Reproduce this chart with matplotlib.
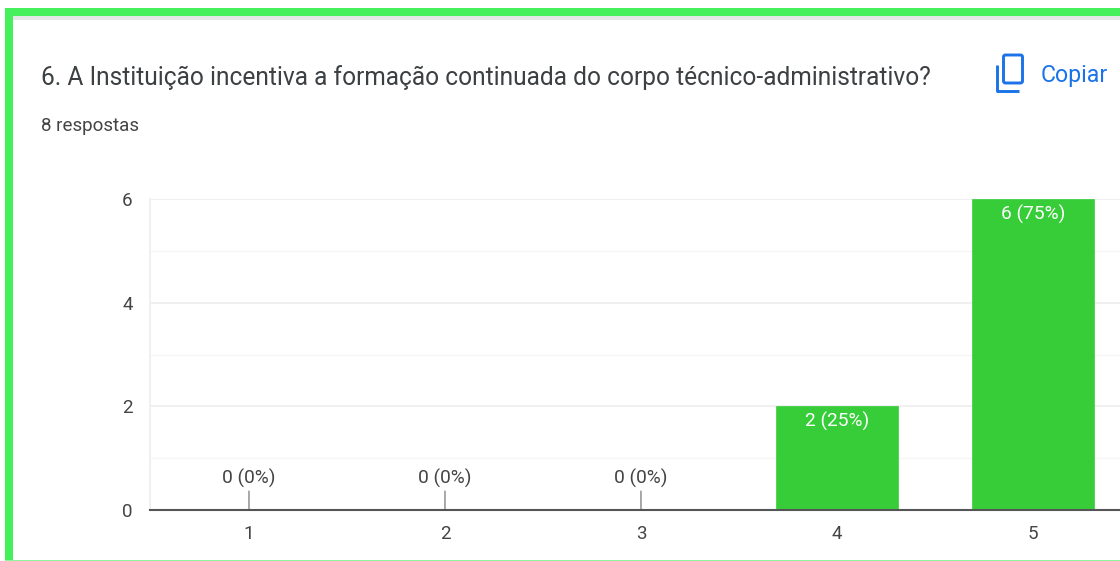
import matplotlib
matplotlib.use("Agg")
import matplotlib.pyplot as plt
from matplotlib.patches import Rectangle, FancyBboxPatch
from matplotlib.lines import Line2D

plt.rcParams['font.family'] = ['Roboto', 'DejaVu Sans']

# Data
categories = [1, 2, 3, 4, 5]
counts = [0, 0, 0, 2, 6]
bar_labels = ['0 (0%)', '0 (0%)', '0 (0%)', '2 (25%)', '6 (75%)']
y_ticks = [0, 2, 4, 6]
y_minor = [1, 3, 5]
title = '6. A Instituição incentiva a formação continuada do corpo técnico-administrativo?'
subtitle = '8 respostas'

W, H = 1120, 561
GREEN = '#37cd39'
FRAME = '#46f05c'
TEXT = '#444444'
BLUE = '#1a73e8'

fig = plt.figure(figsize=(W / 100, H / 100), dpi=100, facecolor='white')

# page layer in pixels, y down
bg = fig.add_axes([0, 0, 1, 1], zorder=0)
bg.set_xlim(0, W)
bg.set_ylim(H, 0)
bg.axis('off')
bg.add_patch(Rectangle((13, 16), W, 4, color='#e3e8e6', lw=0))
bg.add_patch(Rectangle((5, 8), W, 8, color=FRAME, lw=0))
bg.add_patch(Rectangle((5, 8), 8, H, color=FRAME, lw=0))
bg.add_patch(Rectangle((5, 559.5), W, 1.5, color='#8ef59c', lw=0))

bg.text(41, 78, title, fontsize=17.68, color='#3c4043', va='center', ha='left')
bg.text(41, 126, subtitle, fontsize=13.5, color=TEXT, va='center', ha='left')
bg.text(1041, 75, 'Copiar', fontsize=16.7, color=BLUE, va='center', ha='left')

# copy icon
bg.add_patch(FancyBboxPatch((1003.5, 55), 19, 28, boxstyle='round,pad=0,rounding_size=2',
                            fc='none', ec=BLUE, lw=2.1))
bg.add_line(Line2D([997, 997, 1019], [65, 90.5, 90.5], color=BLUE, lw=2.1,
                   solid_joinstyle='round', solid_capstyle='butt'))

# chart: x 150..1120 px, y 199..510 px
ax = fig.add_axes([150 / W, 1 - 510 / H, (W - 150) / W, (510 - 199) / H], zorder=1)
ax.patch.set_alpha(0)
ax.set_xlim(0.495, 5.444)
ax.set_ylim(0, 6)

ax.set_yticks(y_ticks)
ax.set_yticks(y_minor, minor=True)
ax.set_xticks(categories)
ax.grid(True, axis='y', which='major', color='#eeeeee', lw=1.2, zorder=1)
ax.grid(True, axis='y', which='minor', color='#f6f6f6', lw=1, zorder=1)
ax.tick_params(axis='both', which='both', length=0)
ax.tick_params(axis='x', labelsize=13.5, labelcolor=TEXT, pad=10.5)
ax.tick_params(axis='y', labelsize=13.5, labelcolor=TEXT, pad=12.5)

for side in ['top', 'right']:
    ax.spines[side].set_visible(False)
ax.spines['left'].set_color('#eeeeee')
ax.spines['left'].set_linewidth(1.2)
ax.spines['bottom'].set_color('#555555')
ax.spines['bottom'].set_linewidth(1.5)
ax.spines['bottom'].set_zorder(5)

ax.bar(categories, counts, width=0.618, color=GREEN, edgecolor=GREEN, lw=0.5, zorder=3, clip_on=False)

for x, c, label in zip(categories, counts, bar_labels):
    if c == 0:
        ax.annotate(label, xy=(x, 0), xytext=(0, 22.5), textcoords='offset points',
                    ha='center', va='center', fontsize=13.8, color=TEXT,
                    arrowprops=dict(arrowstyle='-', color='#777777', lw=0.9, shrinkA=0, shrinkB=0),
                    zorder=4)
    else:
        ax.annotate(label, xy=(x, c), xytext=(0, -11), textcoords='offset points',
                    ha='center', va='center', fontsize=13.8, color='white', zorder=4)

fig.savefig('out.png', dpi=100)
